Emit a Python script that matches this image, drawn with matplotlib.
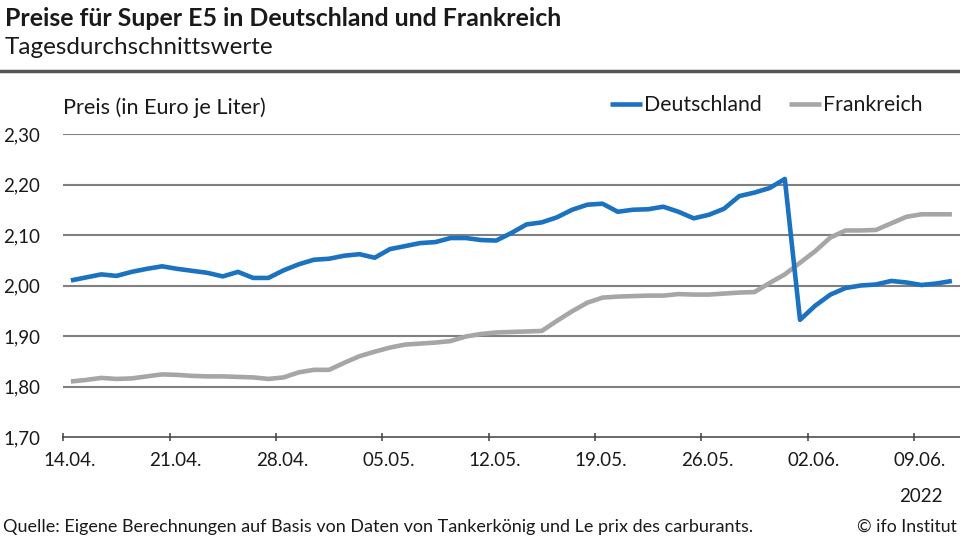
import datetime as dt
import numpy as np
import matplotlib
matplotlib.use("Agg")
import matplotlib.pyplot as plt

# ---------------- data ----------------
start_date = dt.date(2022, 4, 14)
n_days = 59
dates = [start_date + dt.timedelta(days=i) for i in range(n_days)]

deutschland = [
    2.010, 2.016, 2.022, 2.019, 2.027, 2.033, 2.038, 2.033, 2.029, 2.025,
    2.018, 2.027, 2.015, 2.015, 2.030, 2.042, 2.051, 2.053, 2.059, 2.062,
    2.055, 2.072, 2.078, 2.084, 2.086, 2.094, 2.094, 2.090, 2.089, 2.104,
    2.121, 2.125, 2.135, 2.150, 2.160, 2.162, 2.146, 2.150, 2.151, 2.156,
    2.146, 2.133, 2.140, 2.152, 2.177, 2.184, 2.193, 2.211, 1.932, 1.960,
    1.982, 1.995, 2.000, 2.002, 2.009, 2.006, 2.001, 2.004, 2.009,
]
frankreich = [
    1.810, 1.813, 1.817, 1.815, 1.816, 1.820, 1.824, 1.823, 1.821, 1.820,
    1.820, 1.819, 1.818, 1.815, 1.818, 1.828, 1.833, 1.833, 1.847, 1.860,
    1.869, 1.877, 1.883, 1.885, 1.887, 1.890, 1.899, 1.904, 1.907, 1.908,
    1.909, 1.910, 1.930, 1.949, 1.966, 1.976, 1.978, 1.979, 1.980, 1.980,
    1.983, 1.982, 1.982, 1.984, 1.986, 1.987, 2.005, 2.022, 2.045, 2.068,
    2.095, 2.109, 2.109, 2.110, 2.123, 2.136, 2.141, 2.141, 2.141,
]
y_ticks = [1.70, 1.80, 1.90, 2.00, 2.10, 2.20, 2.30]
y_tick_labels = ["1,70", "1,80", "1,90", "2,00", "2,10", "2,20", "2,30"]
x_tick_step = 7
x_tick_labels = [d.strftime("%d.%m.") for d in dates[::x_tick_step]]

title = "Preise für Super E5 in Deutschland und Frankreich"
subtitle = "Tagesdurchschnittswerte"
y_label = "Preis (in Euro je Liter)"
year_label = "2022"
source = "Quelle: Eigene Berechnungen auf Basis von Daten von Tankerkönig und Le prix des carburants."
copyright_txt = "© ifo Institut"

# ---------------- style ----------------
plt.rcParams['font.family'] = ['Lato', 'DejaVu Sans']
W, H = 960, 540
BLUE = "#1B72C0"
GREY = "#A6A6A6"
GRID = "#808080"
TXT = "#1a1a1a"
TICK_FS = 13.5

fig = plt.figure(figsize=(W / 100, H / 100), dpi=100)
fig.patch.set_facecolor("white")


def fx(x):
    return x / W


def fy(y):
    return 1 - y / H


renderer = fig.canvas.get_renderer()


def fit_text(x, y, s, target_w, ha="left", va="center", base=12, **kw):
    t = fig.text(fx(x), fy(y), s, ha=ha, va=va, fontsize=base, color=TXT, **kw)
    w = t.get_window_extent(renderer=renderer).width
    t.set_fontsize(base * target_w / w)
    return t


# ---------------- axes ----------------
left, right, top, bottom = 63.3, 959.5, 134, 437
ax = fig.add_axes([fx(left), fy(bottom), fx(right - left), (bottom - top) / H])
x = np.arange(n_days)
l_fr, = ax.plot(x, frankreich, color=GREY, lw=3.3, solid_joinstyle="round",
                solid_capstyle="butt", zorder=3, label="Frankreich")
l_de, = ax.plot(x, deutschland, color=BLUE, lw=3.3, solid_joinstyle="round",
                solid_capstyle="butt", zorder=4, label="Deutschland")

ax.set_xlim(-0.5, n_days - 0.5)
ax.set_ylim(y_ticks[0], y_ticks[-1])
for s in ["top", "right", "left"]:
    ax.spines[s].set_visible(False)
ax.spines["bottom"].set_color("#404040")
ax.spines["bottom"].set_linewidth(1.1)

ax.set_yticks(y_ticks)
ax.set_yticklabels(y_tick_labels)
# pad in points: label start at x = 3 px
ax.tick_params(axis="y", length=0, pad=(left - 3) * 0.72, labelsize=TICK_FS, labelcolor=TXT)
for t in ax.get_yticklabels():
    t.set_horizontalalignment("left")
for v in y_ticks[1:]:
    ax.axhline(v, color=GRID, lw=1.5, zorder=1)

major_pos = np.arange(0, n_days, x_tick_step)[:len(x_tick_labels)] - 0.1
ax.set_xticks(major_pos)
ax.set_xticklabels(x_tick_labels)
ax.tick_params(axis="x", which="major", length=0, pad=11, labelsize=TICK_FS, labelcolor=TXT)
ax.set_xticks(np.arange(-0.5, n_days, x_tick_step), minor=True)
ax.tick_params(axis="x", which="minor", length=6, direction="inout", width=1.1, color="#404040")

# ---------------- texts ----------------
fit_text(5, 18, title, 555, fontweight="bold")
fit_text(5, 47, subtitle, 267)
fig.add_artist(plt.Line2D([0, 1], [fy(71), fy(71)], color="#555555", lw=2.5))
fit_text(63, 108, y_label, 202)
fig.text(fx(921), fy(497), year_label, ha="center", va="center", fontsize=TICK_FS, color=TXT)
fit_text(3, 527, source, 749)
fit_text(957, 527, copyright_txt, 99, ha="right")

leg = ax.legend(handles=[l_de, l_fr], ncol=2, frameon=False, fontsize=15.3,
                loc="center right", bbox_to_anchor=(fx(931), fy(105)),
                bbox_transform=fig.transFigure, handlelength=1.5,
                handletextpad=0.1, columnspacing=1.3, borderaxespad=0)
for t in leg.get_texts():
    t.set_color(TXT)

fig.savefig("out.png", dpi=100, facecolor="white")
